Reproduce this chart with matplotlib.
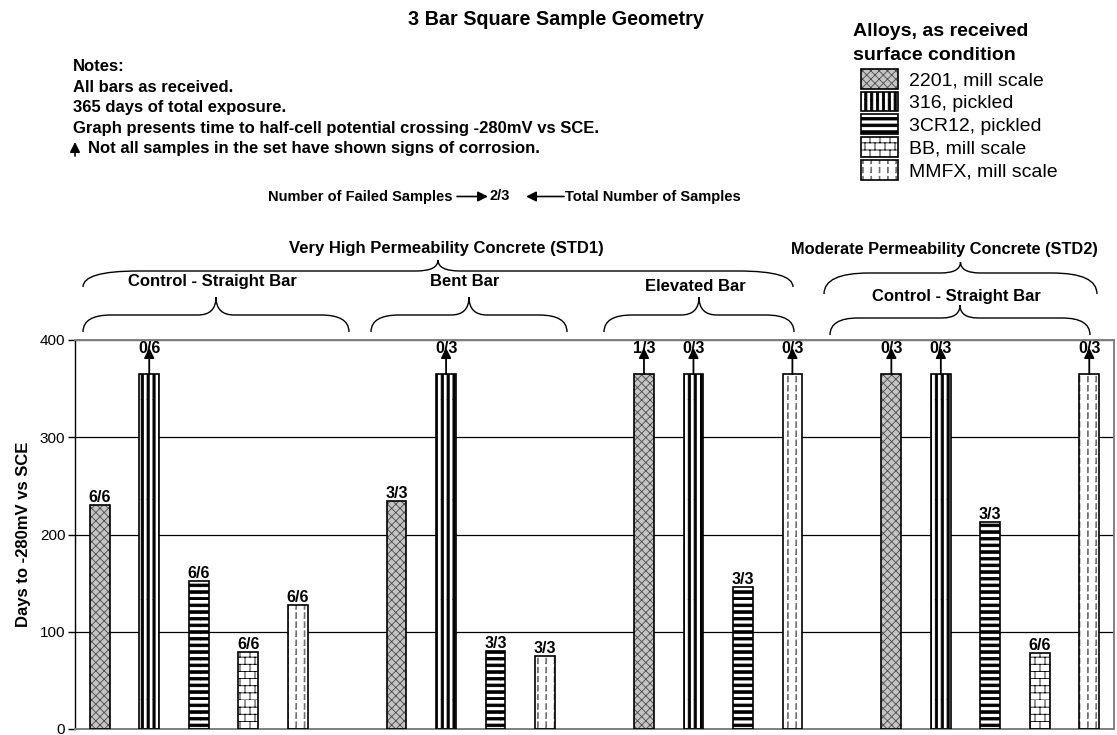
import matplotlib
matplotlib.use("Agg")
import matplotlib.pyplot as plt
import matplotlib.hatch as mhatch
from matplotlib.path import Path
from matplotlib.patches import Rectangle, PathPatch, FancyArrowPatch
from matplotlib.legend_handler import HandlerTuple
from matplotlib.transforms import IdentityTransform

# ---------------- data ----------------
chart_title = "3 Bar Square Sample Geometry"
y_label = "Days to -280mV vs SCE"
alloys = ["2201, mill scale", "316, pickled", "3CR12, pickled",
          "BB, mill scale", "MMFX, mill scale"]
legend_title = ["Alloys, as received", "surface condition"]
concretes = ["Very High Permeability Concrete (STD1)",
             "Moderate Permeability Concrete (STD2)"]
groups = ["Control - Straight Bar", "Bent Bar", "Elevated Bar",
          "Control - Straight Bar"]

days_std1_control = [230, 365, 152, 79, 127]
days_std1_bent = [234, 365, 80, None, 75]
days_std1_elevated = [365, 365, 146, None, 365]
days_std2_control = [365, 365, 213, 78, 365]

failed_std1_control = ["6/6", "0/6", "6/6", "6/6", "6/6"]
failed_std1_bent = ["3/3", "0/3", "3/3", None, "3/3"]
failed_std1_elevated = ["1/3", "0/3", "3/3", None, "0/3"]
failed_std2_control = ["0/3", "0/3", "3/3", "6/6", "0/3"]

y_ticks = [0, 100, 200, 300, 400]
notes = ["Notes:",
         "All bars as received.",
         "365 days of total exposure.",
         "Graph presents time to half-cell potential crossing -280mV vs SCE."]
note_arrow_text = "Not all samples in the set have shown signs of corrosion."
key_left = "Number of Failed Samples"
key_mid = "2/3"
key_right = "Total Number of Samples"

# ---------------- custom hatch patterns ----------------
class _PolyHatch(mhatch.HatchPatternBase):
    symbol = ""

    def __init__(self, hatch, density):
        n = hatch.count(self.symbol) if self.symbol else 0
        self.polys = self.make() if n else []
        self.num_vertices = sum(len(p) for p in self.polys)

    def make(self):
        return []

    def set_vertices_and_codes(self, vertices, codes):
        i = 0
        for p in self.polys:
            k = len(p)
            vertices[i:i + k] = p
            codes[i] = Path.MOVETO
            codes[i + 1:i + k] = Path.LINETO
            i += k


def _rect(x0, y0, w, h):
    return [(x0, y0), (x0 + w, y0), (x0 + w, y0 + h), (x0, y0 + h), (x0, y0)]


class VStripes(_PolyHatch):
    symbol = "|"

    def make(self):
        n = 17
        return [_rect(k / n, 0.0, 0.022, 1.0) for k in range(n)]


class HStripes(_PolyHatch):
    symbol = "-"

    def make(self):
        n = 15
        return [_rect(0.0, k / n, 1.0, 0.026) for k in range(n)]


class Bricks(_PolyHatch):
    symbol = "o"

    def make(self):
        rows, cols = 14, 10
        polys = [[(0.0, r / rows), (1.0, r / rows)] for r in range(rows)]
        for r in range(rows):
            off = 0.5 / cols if r % 2 else 0.0
            for c in range(cols):
                x = c / cols + off
                polys.append([(x, r / rows), (x, (r + 1) / rows)])
        return polys


class DashCols(_PolyHatch):
    symbol = "O"

    def make(self):
        cols, dashes = 12, 11
        polys = []
        for c in range(cols):
            x = (c + 0.5) / cols
            for d in range(dashes):
                polys.append(_rect(x, d / dashes, 0.008, 0.055))
        return polys


mhatch._hatch_types[:] = [HStripes, VStripes, mhatch.NorthEastHatch,
                          mhatch.SouthEastHatch, Bricks, DashCols]

plt.rcParams["font.family"] = ["Liberation Sans", "DejaVu Sans"]
plt.rcParams["hatch.linewidth"] = 0.6

alloy_hatch = ["xxxx", "|", "-", "o", "O"]
alloy_hatch_color = ["#4a4a4a", "black", "black", "black", "#707070"]
alloy_face = ["#c4c4c4", "white", "white", "white", "white"]

# ---------------- layout ----------------
W, H = 1117, 735
fig = plt.figure(figsize=(W / 100, H / 100), dpi=100)


def fx(x):
    return x / W


def fy(y):
    return 1 - y / H


ax = fig.add_axes([75 / W, 6 / H, 1039 / W, 389 / H])

group_days = [days_std1_control, days_std1_bent, days_std1_elevated,
              days_std2_control]
group_failed = [failed_std1_control, failed_std1_bent, failed_std1_elevated,
                failed_std2_control]

bars = []
slot = 0
for days, failed in zip(group_days, group_failed):
    for ai, (v, lab) in enumerate(zip(days, failed)):
        if v is None:
            continue
        bars.append((slot, ai, v, lab))
        slot += 1
    slot += 1
n_slots = slot - 1

bar_w = 0.4
for ai in range(len(alloys)):
    xs = [b[0] for b in bars if b[1] == ai]
    vs = [b[2] for b in bars if b[1] == ai]
    ax.bar(xs, vs, width=bar_w, color=alloy_face[ai],
           edgecolor=alloy_hatch_color[ai], linewidth=0,
           hatch=alloy_hatch[ai], zorder=2)
    ax.bar(xs, vs, width=bar_w, fill=False, edgecolor="black", linewidth=1.2,
           zorder=3)

for s, ai, v, lab in bars:
    a, b = lab.split("/")
    not_all = int(a) < int(b)
    if not_all:
        ax.annotate("", xy=(s, v + 27), xytext=(s, v),
                    arrowprops=dict(arrowstyle="-|>,head_length=0.6,head_width=0.3",
                                    mutation_scale=10, lw=1.3, color="black",
                                    shrinkA=0, shrinkB=0), zorder=4)
        off = 21
    else:
        off = 3
    ax.annotate(lab, xy=(s, v), xytext=(0, off), textcoords="offset pixels",
                ha="center", va="baseline", fontsize=11.5, fontweight="bold",
                zorder=5)

ax.set_xlim(-0.5, n_slots - 0.5)
ax.set_ylim(0, 400)
ax.set_yticks(y_ticks)
ax.set_xticks([])
ax.tick_params(axis="y", length=5, width=1, pad=2, labelsize=11)
ax.set_axisbelow(True)
ax.yaxis.grid(True, color="black", linewidth=0.9)
for side in ["top", "right", "bottom"]:
    ax.spines[side].set_color("#808080")
    ax.spines[side].set_linewidth(1.4)
ax.spines["left"].set_color("black")
ax.spines["left"].set_linewidth(1.0)
ax.set_ylabel(y_label, fontsize=12, fontweight="bold", va="center")
ax.yaxis.set_label_coords(-0.05, 0.5)

# ---------------- title, notes ----------------
fig.text(fx(556), fy(19.5), chart_title, ha="center", va="center",
         fontsize=14.2, fontweight="bold")

note_baselines = [71, 91.5, 112, 133]
for line, b in zip(notes, note_baselines):
    fig.text(fx(73), fy(b), line, ha="left", va="baseline", fontsize=12,
             fontweight="bold")
fig.text(fx(88), fy(153.5), note_arrow_text, ha="left", va="baseline",
         fontsize=12, fontweight="bold")


def fig_arrow(x0, y0, x1, y1, lw=1.2, hl=0.6, hw=0.3):
    fig.add_artist(FancyArrowPatch(
        (x0, H - y0), (x1, H - y1), transform=IdentityTransform(),
        arrowstyle=f"-|>,head_length={hl},head_width={hw}", mutation_scale=10,
        lw=lw, color="black", shrinkA=0, shrinkB=0))


fig_arrow(75, 156, 75, 142)

key_y = 196.5
fig.text(fx(453), fy(key_y), key_left, ha="right", va="center", fontsize=10.5,
         fontweight="bold")
fig_arrow(457, key_y, 488, key_y)
fig.text(fx(500), fy(key_y), key_mid, ha="center", va="center", fontsize=10.5,
         fontweight="bold")
fig_arrow(564, key_y, 526, key_y)
fig.text(fx(565), fy(key_y), key_right, ha="left", va="center", fontsize=10.5,
         fontweight="bold")

# ---------------- legend ----------------
fs_title = 14
fig.text(fx(853), fy(36.5), legend_title[0], ha="left", va="baseline",
         fontsize=fs_title, fontweight="bold")
fig.text(fx(853), fy(60.5), legend_title[1], ha="left", va="baseline",
         fontsize=fs_title, fontweight="bold")
handles = []
for ai in range(len(alloys)):
    hp = Rectangle((0, 0), 1, 1, facecolor=alloy_face[ai],
                   edgecolor=alloy_hatch_color[ai], linewidth=0,
                   hatch=alloy_hatch[ai])
    op = Rectangle((0, 0), 1, 1, fill=False, edgecolor="black", linewidth=1.2)
    handles.append((hp, op))
fs_leg = 14
fs_px = fs_leg * 100 / 72
fig.legend(handles, alloys, loc="upper left",
           bbox_to_anchor=(fx(861), fy(69)), bbox_transform=fig.transFigure,
           frameon=False, fontsize=fs_leg, handlelength=37 / fs_px,
           handleheight=23 / fs_px, labelspacing=2.3 / fs_px,
           handletextpad=11 / fs_px, borderpad=0, borderaxespad=0,
           handler_map={tuple: HandlerTuple(ndivide=1)})

# ---------------- braces ----------------


def brace(x0, x1, yb, yh, yt, re, rt, lw=1.0):
    xm = (x0 + x1) / 2

    def Y(y):
        return H - y
    verts = [(x0, Y(yb)), (x0, Y(yh)), (x0 + re, Y(yh)),
             (xm - rt, Y(yh)), (xm, Y(yh)), (xm, Y(yt)),
             (xm, Y(yh)), (xm + rt, Y(yh)),
             (x1 - re, Y(yh)), (x1, Y(yh)), (x1, Y(yb))]
    codes = [Path.MOVETO, Path.CURVE3, Path.CURVE3, Path.LINETO,
             Path.CURVE3, Path.CURVE3, Path.CURVE3, Path.CURVE3,
             Path.LINETO, Path.CURVE3, Path.CURVE3]
    fig.add_artist(PathPatch(Path(verts, codes), fill=False, lw=lw,
                             edgecolor="black", transform=IdentityTransform()))
    return xm


# concrete-level braces
brace(83, 793, 287, 271, 260, 55, 22)
fig.text(fx(446), fy(248), concretes[0], ha="center", va="center",
         fontsize=12, fontweight="bold")
brace(824, 1097, 294, 273, 262, 45, 20)
fig.text(fx(944), fy(250), concretes[1], ha="center", va="center",
         fontsize=11.8, fontweight="bold")

# group-level braces
group_brace = [(83, 349, 332, 315, 297, 281),
               (371, 567, 332, 315, 297, 281),
               (604, 794, 332, 315, 297, 287),
               (830, 1090, 335, 318, 305, 297)]
for name, (x0, x1, yb, yh, yt, ty) in zip(groups, group_brace):
    xm = brace(x0, x1, yb, yh, yt, 28, 18)
    fig.text(fx(xm - 4), fy(ty), name, ha="center", va="center",
             fontsize=12, fontweight="bold")

fig.savefig("out.png", dpi=100)
